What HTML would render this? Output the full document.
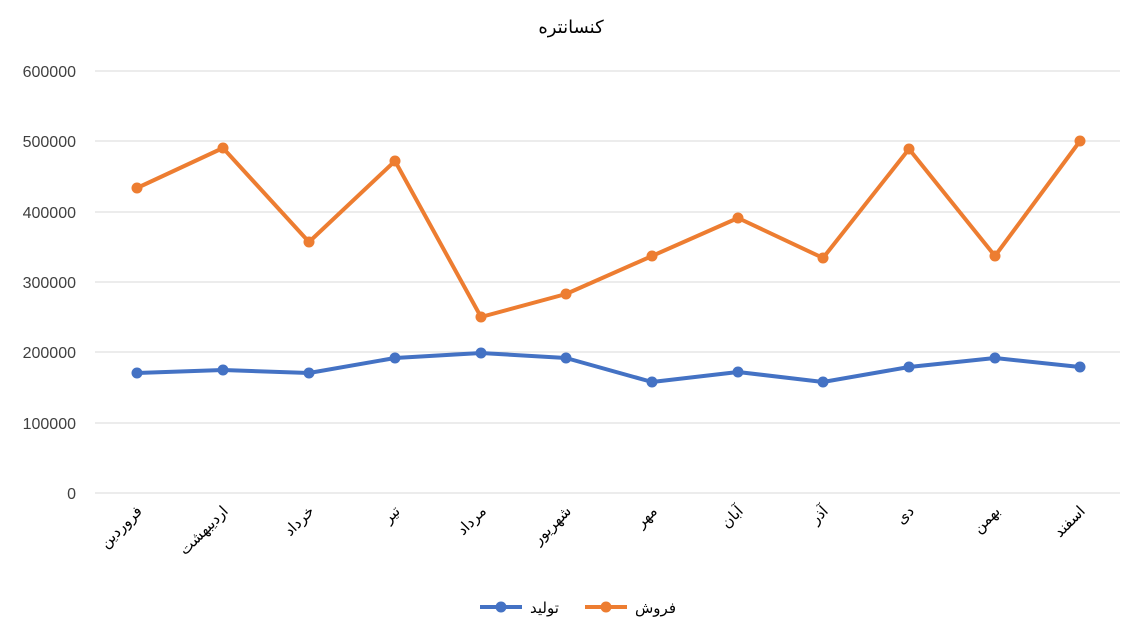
<!DOCTYPE html>
<html><head><meta charset="utf-8"><style>body{margin:0;background:#fff}svg{display:block}</style></head>
<body>
<svg width="1140" height="619" xmlns="http://www.w3.org/2000/svg" font-family="'Liberation Sans','DejaVu Sans',sans-serif">
<rect width="1140" height="619" fill="#fff"/>
<text x="571" y="33" font-size="18" text-anchor="middle" fill="#000" font-family="'DejaVu Sans',sans-serif">کنسانتره</text>
<g stroke="#d9d9d9" stroke-width="1">
<line x1="95" x2="1120" y1="71" y2="71"/><line x1="95" x2="1120" y1="141" y2="141"/><line x1="95" x2="1120" y1="212" y2="212"/><line x1="95" x2="1120" y1="282" y2="282"/><line x1="95" x2="1120" y1="352" y2="352"/><line x1="95" x2="1120" y1="423" y2="423"/><line x1="95" x2="1120" y1="493" y2="493"/>
</g>
<g font-size="16" fill="#404040" text-anchor="end">
<text x="76" y="77">600000</text><text x="76" y="147">500000</text><text x="76" y="218">400000</text><text x="76" y="288">300000</text><text x="76" y="358">200000</text><text x="76" y="429">100000</text><text x="76" y="499">0</text>
</g>
<g font-size="15" fill="#000" text-anchor="end" font-family="'DejaVu Sans',sans-serif">
<text transform="translate(143,512) rotate(-45)">فروردین</text>
<text transform="translate(229,512) rotate(-45)">اردیبهشت</text>
<text transform="translate(315,512) rotate(-45)">خرداد</text>
<text transform="translate(401,512) rotate(-45)">تیر</text>
<text transform="translate(487,512) rotate(-45)">مرداد</text>
<text transform="translate(572,512) rotate(-45)">شهریور</text>
<text transform="translate(658,512) rotate(-45)">مهر</text>
<text transform="translate(744,512) rotate(-45)">آبان</text>
<text transform="translate(829,512) rotate(-45)">آذر</text>
<text transform="translate(915,512) rotate(-45)">دی</text>
<text transform="translate(1001,512) rotate(-45)">بهمن</text>
<text transform="translate(1086,512) rotate(-45)">اسفند</text>
</g>
<g fill="none" stroke-width="4" stroke-linejoin="round">
<polyline stroke="#4472c4" points="137,373 223,370 309,373 395,358 481,353 566,358 652,382 738,372 823,382 909,367 995,358 1080,367"/>
<polyline stroke="#ed7d31" points="137,188 223,148 309,242 395,161 481,317 566,294 652,256 738,218 823,258 909,149 995,256 1080,141"/>
</g>
<g fill="#4472c4">
<circle cx="137" cy="373" r="5.5"/><circle cx="223" cy="370" r="5.5"/><circle cx="309" cy="373" r="5.5"/><circle cx="395" cy="358" r="5.5"/><circle cx="481" cy="353" r="5.5"/><circle cx="566" cy="358" r="5.5"/><circle cx="652" cy="382" r="5.5"/><circle cx="738" cy="372" r="5.5"/><circle cx="823" cy="382" r="5.5"/><circle cx="909" cy="367" r="5.5"/><circle cx="995" cy="358" r="5.5"/><circle cx="1080" cy="367" r="5.5"/>
</g>
<g fill="#ed7d31">
<circle cx="137" cy="188" r="5.5"/><circle cx="223" cy="148" r="5.5"/><circle cx="309" cy="242" r="5.5"/><circle cx="395" cy="161" r="5.5"/><circle cx="481" cy="317" r="5.5"/><circle cx="566" cy="294" r="5.5"/><circle cx="652" cy="256" r="5.5"/><circle cx="738" cy="218" r="5.5"/><circle cx="823" cy="258" r="5.5"/><circle cx="909" cy="149" r="5.5"/><circle cx="995" cy="256" r="5.5"/><circle cx="1080" cy="141" r="5.5"/>
</g>
<line x1="480" x2="522" y1="607" y2="607" stroke="#4472c4" stroke-width="4"/><circle cx="501" cy="607" r="5.5" fill="#4472c4"/>
<text x="530" y="613" font-size="15" fill="#000" font-family="'DejaVu Sans',sans-serif">تولید</text>
<line x1="585" x2="627" y1="607" y2="607" stroke="#ed7d31" stroke-width="4"/><circle cx="606" cy="607" r="5.5" fill="#ed7d31"/>
<text x="635" y="613" font-size="15" fill="#000" font-family="'DejaVu Sans',sans-serif">فروش</text>
</svg>
</body></html>
